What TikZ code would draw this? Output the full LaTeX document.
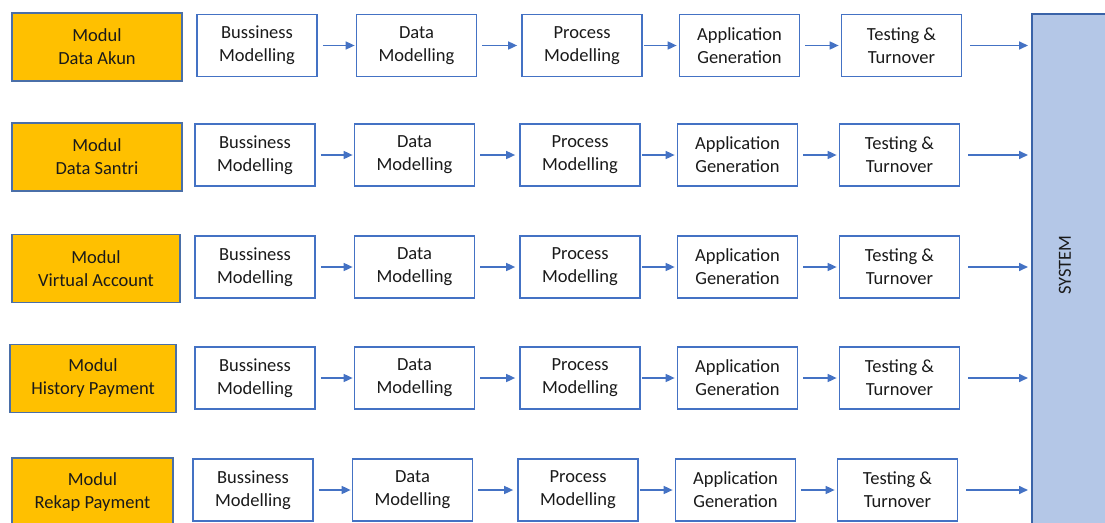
\documentclass[tikz,border=0pt]{standalone}
\usepackage{fontspec}
\setmainfont{Carlito}
\usetikzlibrary{arrows.meta}
\definecolor{boxline}{HTML}{4472C4}
\definecolor{modfill}{HTML}{FFC000}
\definecolor{modline}{HTML}{4A6FA8}
\definecolor{sysfill}{HTML}{B4C7E7}
\definecolor{sysline}{HTML}{3A63A8}
\definecolor{txt}{HTML}{1A1A1A}
\begin{document}
\begin{tikzpicture}[x=1pt,y=-1pt,
  label font/.style={font=\fontsize{18.5}{23}\selectfont, text=txt},
  stage/.style={label font, draw=boxline, line width=1.7pt, fill=white,
    minimum width=120pt, minimum height=62pt, align=center, inner sep=0pt},
  modbox/.style={label font, draw=modline, line width=1.7pt, fill=modfill,
    minimum height=68pt, align=center, inner sep=0pt},
  sysbox/.style={draw=sysline, line width=1.8pt, fill=sysfill},
  flow/.style={draw=boxline, line width=1.6pt, -{Triangle[length=9pt,width=8pt]}}
]
\useasboundingbox (0,0) rectangle (1105,522);
\clip (0,0) rectangle (1105,522);

% the system column that collects every module
\node[sysbox, anchor=north west, minimum width=90pt, minimum height=530pt] (sys) at (1031,13) {};
\node[label font, rotate=90] (systxt) at (1065,265) {SYSTEM};

% one row per module: module name, then the five development stages
\foreach \r/\yc/\dx/\mx/\my/\mw/\lbl in {
    1/45.5/0/97/47/170pt/Data Akun,
    2/155/-2/97/157/170pt/Data Santri,
    3/267/-2/96/268.5/168pt/Virtual Account,
    4/378/-2/93/378.5/166pt/History Payment,
    5/490/-4/92.5/492/161pt/Rekap Payment}{
  \node[modbox, minimum width=\mw] (m\r) at (\mx,\my) {Modul\\\lbl};
  \node[stage] (r\r-1) at (257+\dx,\yc)   {Bussiness\\Modelling};
  \node[stage] (r\r-2) at (416.5+\dx,\yc) {Data\\Modelling};
  \node[stage] (r\r-3) at (582+\dx,\yc)   {Process\\Modelling};
  \node[stage] (r\r-4) at (739.5+\dx,\yc) {Application\\Generation};
  \node[stage] (r\r-5) at (901.5+\dx,\yc) {Testing \&\\Turnover};
  \draw[flow, shorten <=5pt, shorten >=1pt] (r\r-1.east) -- (r\r-2.west);
  \draw[flow, shorten <=5pt, shorten >=4pt] (r\r-2.east) -- (r\r-3.west);
  \draw[flow, shorten <=1pt, shorten >=2pt] (r\r-3.east) -- (r\r-4.west);
  \draw[flow, shorten <=5pt, shorten >=2pt] (r\r-4.east) -- (r\r-5.west);
  \draw[flow, shorten <=8pt, shorten >=3pt] (r\r-5.east) -- (r\r-5.east -| sys.west);
}
\end{tikzpicture}
\end{document}
